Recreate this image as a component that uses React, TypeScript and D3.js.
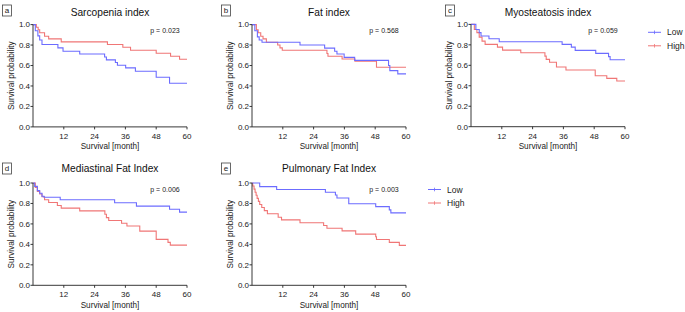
import React from "react";
import * as d3 from "d3";

// ---------- data ----------
const xTicks = [12, 24, 36, 48, 60];
const yTicks = [0, 0.2, 0.4, 0.6, 0.8, 1.0];
const legendLabels = ["Low", "High"];

const titles = ["Sarcopenia index", "Fat index", "Myosteatosis index", "Mediastinal Fat Index", "Pulmonary Fat Index"];
const panelLetters = ["a", "b", "c", "d", "e"];
const pValues = ["p = 0.023", "p = 0.568", "p = 0.059", "p = 0.006", "p = 0.003"];

// Kaplan-Meier drops: time (months) and survival after the drop
const aLowT = [0.9, 1.9, 2.6, 3.5, 9.7, 11.7, 18.2, 27.9, 28.6, 32.1, 32.9, 36.1, 39.9, 48.0, 53.2];
const aLowS = [0.94, 0.89, 0.85, 0.805, 0.772, 0.74, 0.713, 0.684, 0.655, 0.63, 0.603, 0.577, 0.544, 0.485, 0.427];
const aHighT = [1.3, 2.0, 2.6, 4.5, 6.1, 11.0, 29.0, 35.0, 38.0, 48.0, 53.6, 57.1];
const aHighS = [0.974, 0.95, 0.92, 0.886, 0.86, 0.831, 0.805, 0.778, 0.749, 0.72, 0.69, 0.661];

const bLowT = [1.1, 2.1, 2.8, 3.9, 18.7, 28.3, 32.2, 33.1, 35.9, 40.0, 53.2, 53.7, 56.8];
const bLowS = [0.94, 0.88, 0.85, 0.827, 0.80, 0.77, 0.74, 0.713, 0.68, 0.65, 0.60, 0.55, 0.518];
const bHighT = [1.7, 2.4, 3.4, 4.3, 5.6, 10.0, 10.9, 11.8, 29.2, 29.6, 35.1, 40.1, 48.5];
const bHighS = [0.95, 0.92, 0.886, 0.86, 0.827, 0.80, 0.772, 0.749, 0.717, 0.69, 0.664, 0.642, 0.583];

const cLowT = [1.9, 3.2, 3.9, 7.0, 11.0, 35.5, 39.1, 40.6, 48.6, 53.6, 54.2];
const cLowS = [0.95, 0.92, 0.886, 0.86, 0.83, 0.805, 0.778, 0.746, 0.717, 0.685, 0.655];
const cHighT = [1.3, 2.3, 3.2, 4.3, 5.5, 10.3, 12.3, 19.4, 28.8, 29.3, 30.6, 33.3, 37.0, 48.4, 52.9, 56.8];
const cHighS = [0.95, 0.92, 0.876, 0.837, 0.805, 0.778, 0.749, 0.723, 0.69, 0.658, 0.63, 0.583, 0.554, 0.498, 0.472, 0.446];

const dLowT = [0.65, 1.7, 2.6, 3.5, 4.3, 10.6, 31.8, 40.3, 53.2, 57.1];
const dLowS = [0.967, 0.925, 0.9, 0.87, 0.86, 0.836, 0.807, 0.774, 0.744, 0.715];
const dHighT = [0.9, 1.7, 2.6, 3.5, 4.5, 6.1, 9.5, 11.0, 18.2, 28.0, 28.6, 29.5, 34.5, 36.6, 41.6, 48.0, 52.6, 53.5];
const dHighS = [0.957, 0.918, 0.892, 0.866, 0.836, 0.81, 0.78, 0.754, 0.728, 0.695, 0.662, 0.633, 0.607, 0.58, 0.53, 0.449, 0.42, 0.393];

const eLowT = [3.0, 9.6, 28.6, 32.5, 33.1, 37.7, 48.2, 53.5, 54.1];
const eLowS = [0.965, 0.936, 0.909, 0.883, 0.854, 0.797, 0.769, 0.737, 0.708];
const eHighT = [0.3, 0.8, 1.2, 1.6, 2.0, 2.5, 3.0, 3.8, 4.8, 6.0, 10.2, 11.5, 18.7, 27.9, 29.2, 35.1, 40.4, 48.2, 48.5, 53.5, 57.4];
const eHighS = [0.97, 0.94, 0.91, 0.88, 0.85, 0.82, 0.79, 0.76, 0.73, 0.70, 0.665, 0.64, 0.612, 0.585, 0.558, 0.532, 0.50, 0.475, 0.448, 0.42, 0.39];

const lowSeries = [[aLowT, aLowS], [bLowT, bLowS], [cLowT, cLowS], [dLowT, dLowS], [eLowT, eLowS]];
const highSeries = [[aHighT, aHighS], [bHighT, bHighS], [cHighT, cHighS], [dHighT, dHighS], [eHighT, eHighS]];

// ---------- layout ----------
const W = 685;
const H = 312;
const FONT = "'Liberation Sans', Arial, Helvetica, sans-serif";
const BLUE = "#6c6cff";
const RED = "#f07676";
const plotW = 154;
const plotH = 102.3;
const panels = [
  { x: 33, y: 24.6, box: [2.5, 5], legend: false },
  { x: 252, y: 24.6, box: [221.5, 5], legend: false },
  { x: 471, y: 24.4, box: [445.5, 5], legend: true, lx: 648, ly: 32.3 },
  { x: 33, y: 183, box: [2.5, 163], legend: false },
  { x: 252, y: 183, box: [221.5, 163], legend: true, lx: 428, ly: 189.5 },
];

function toPoints(T: number[], S: number[]): [number, number][] {
  const pts: [number, number][] = [[0, 1]];
  T.forEach((t, i) => pts.push([t, S[i]]));
  pts.push([60, S[S.length - 1]]);
  return pts;
}

function Panel({ i }: { i: number }) {
  const p = panels[i];
  const x = d3.scaleLinear().domain([0, 60]).range([p.x, p.x + plotW]);
  const y = d3.scaleLinear().domain([0, 1]).range([p.y + plotH, p.y]);
  const line = d3
    .line<[number, number]>()
    .x((d) => x(d[0]))
    .y((d) => y(d[1]))
    .curve(d3.curveStepAfter);
  const low = toPoints(lowSeries[i][0], lowSeries[i][1]);
  const high = toPoints(highSeries[i][0], highSeries[i][1]);
  const fmt = d3.format(".1f");
  const titleY = i < 3 ? 15.5 : 172.3;
  return (
    <g>
      {/* panel letter box */}
      <rect x={p.box[0]} y={p.box[1]} width={9} height={11} fill="none" stroke="#444" strokeWidth={0.8} />
      <text x={p.box[0] + 4.5} y={p.box[1] + 8.3} fontSize={8} textAnchor="middle" fontFamily={FONT} fill="#222">
        {panelLetters[i]}
      </text>
      {/* title */}
      <text x={(x(0) + x(60)) / 2} y={titleY} fontSize={10.2} textAnchor="middle" fontFamily={FONT} fill="#111">
        {titles[i]}
      </text>
      {/* curves */}
      <path d={line(high) || ""} fill="none" stroke={RED} strokeWidth={1.1} />
      <path d={line(low) || ""} fill="none" stroke={BLUE} strokeWidth={1.1} />
      {/* axes */}
      <line x1={x(0)} x2={x(0)} y1={y(0)} y2={y(1)} stroke="#222" strokeWidth={0.9} />
      <line x1={x(0)} x2={x(60)} y1={y(0)} y2={y(0)} stroke="#222" strokeWidth={0.9} />
      {yTicks.map((t) => (
        <g key={"y" + t}>
          <line x1={x(0) - 2.5} x2={x(0)} y1={y(t)} y2={y(t)} stroke="#222" strokeWidth={0.9} />
          <text x={x(0) - 3} y={y(t) + 2.8} fontSize={8} textAnchor="end" fontFamily={FONT} fill="#222">
            {fmt(t)}
          </text>
        </g>
      ))}
      {xTicks.map((t) => (
        <g key={"x" + t}>
          <line x1={x(t)} x2={x(t)} y1={y(0)} y2={y(0) + 2.5} stroke="#222" strokeWidth={0.9} />
          <text x={x(t)} y={y(0) + 11.8} fontSize={8} textAnchor="middle" fontFamily={FONT} fill="#222">
            {t}
          </text>
        </g>
      ))}
      <text x={(x(0) + x(60)) / 2} y={y(0) + 22.5} fontSize={8.2} textAnchor="middle" fontFamily={FONT} fill="#222">
        Survival [month]
      </text>
      <text
        transform={`translate(${x(0) - 19},${(y(0) + y(1)) / 2}) rotate(-90)`}
        fontSize={8.2}
        textAnchor="middle"
        fontFamily={FONT}
        fill="#222"
      >
        Survival probability
      </text>
      {/* p value */}
      <text x={x(45.7)} y={y(0.94) + 2.5} fontSize={7} fontFamily={FONT} fill="#222">
        {pValues[i]}
      </text>
      {p.legend && (
        <g>
          {[BLUE, RED].map((c, k) => {
            const ly = (p.ly as number) + k * 13.5;
            const lx = p.lx as number;
            return (
              <g key={k}>
                <line x1={lx} x2={lx + 13} y1={ly} y2={ly} stroke={c} strokeWidth={1} />
                <line x1={lx + 6.5} x2={lx + 6.5} y1={ly - 1.8} y2={ly + 1.8} stroke={c} strokeWidth={0.8} />
                <text x={lx + 19} y={ly + 3} fontSize={8.5} fontFamily={FONT} fill="#222">
                  {legendLabels[k]}
                </text>
              </g>
            );
          })}
        </g>
      )}
    </g>
  );
}

export default function App() {
  return (
    <svg width={W} height={H} viewBox={`0 0 ${W} ${H}`} style={{ display: "block", position: "absolute", left: 0, top: 0, background: "#fff" }}>
      <rect x={0} y={0} width={W} height={H} fill="#fff" />
      {panels.map((_, i) => (
        <Panel key={i} i={i} />
      ))}
    </svg>
  );
}
